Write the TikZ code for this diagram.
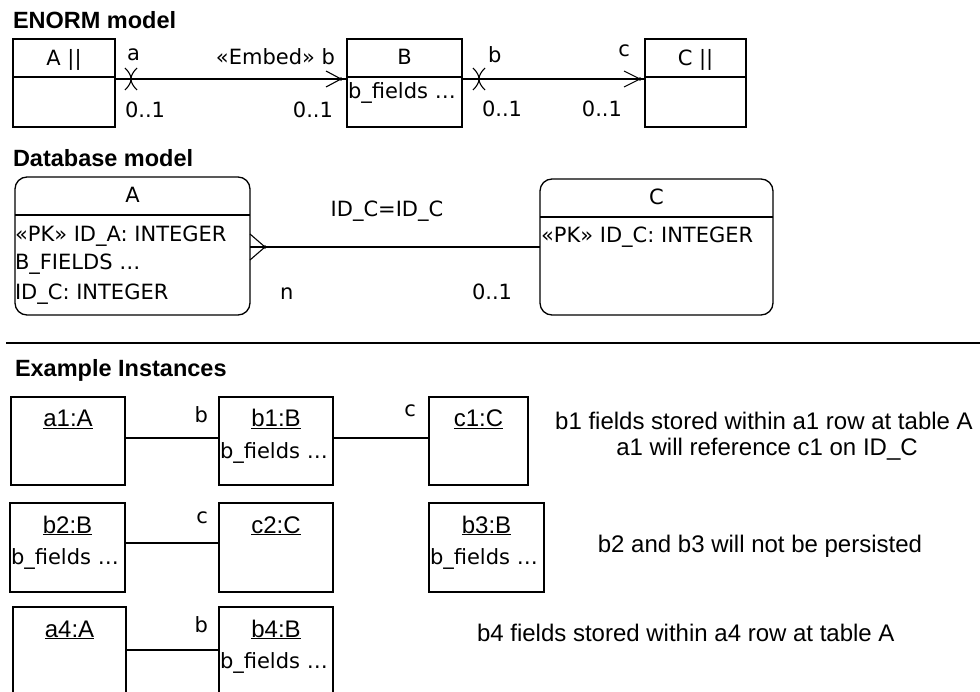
\documentclass[tikz,border=0pt]{standalone}
\usepackage{fontspec}
\setmainfont{Liberation Sans}
\newfontfamily\umlfont{DejaVu Sans}
\usetikzlibrary{calc}
\begin{document}
\begin{tikzpicture}[x=1pt,y=-1pt,
  every node/.style={inner sep=0pt, outer sep=0pt},
  box/.style={draw, line width=1.3pt, anchor=north west},
  tbl/.style={draw, line width=1.3pt, anchor=north west, rounded corners=12pt},
  ln/.style={line width=1.3pt},
  thinln/.style={line width=1.1pt},
  uml/.style={font=\umlfont\fontsize{21}{25}\selectfont},
  note/.style={font=\fontsize{24}{28}\selectfont},
  inst/.style={font=\fontsize{24}{28}\selectfont, anchor=base},
  ttl/.style={font=\bfseries\fontsize{23.5}{28}\selectfont, anchor=base west},
]
\useasboundingbox (0,0) rectangle (980,692);
\clip (0,0) rectangle (980,692);

% ---------------- ENORM model
\node[ttl] (t1) at (13,29) {ENORM model};
\node[box, minimum width=102pt, minimum height=88pt] (A) at (13,39) {};
\node[box, minimum width=115pt, minimum height=88pt] (B) at (347,39) {};
\node[box, minimum width=101pt, minimum height=88pt] (C) at (645,39) {};
\draw[ln] (A.west |- 0,77) -- (A.east |- 0,77);
\draw[ln] (B.west |- 0,77) -- (B.east |- 0,77);
\draw[ln] (C.west |- 0,77) -- (C.east |- 0,77);
\node[uml, anchor=base] (Ah) at (A.north |- 0,66) {A ||};
\node[uml, anchor=base] (Bh) at (B.north |- 0,65) {B};
\node[uml, anchor=base] (Ch) at (C.north |- 0,66) {C ||};
\node[uml, anchor=base west] (Bf) at (348,99) {b\_fields …};

\draw[thinln] (A.east |- 0,79) -- (B.west |- 0,79);
\draw[thinln] (B.east |- 0,79) -- (C.west |- 0,79);
% crossing marks
\draw[thinln] (125,68) .. controls (133,76) and (133,82) .. (125,90);
\draw[thinln] (137,68) .. controls (129,76) and (129,82) .. (137,90);
\draw[thinln] (473,68) .. controls (481,76) and (481,82) .. (473,90);
\draw[thinln] (485,68) .. controls (477,76) and (477,82) .. (485,90);
% open arrow ends with dot
\draw[thinln] (326,71) -- (341,79) -- (326,87);
\fill (341,79) circle (1.9);
\draw[thinln] (624,71) -- (640,79) -- (624,87);
\fill (640,79) circle (1.9);
% labels
\node[uml, anchor=base west] (la) at (127,61) {a};
\node[uml, anchor=base west] (l1) at (125,118) {0..1};
\node[uml, anchor=base east] (le) at (335,65) {«Embed» b};
\node[uml, anchor=base east] (l2) at (333,118) {0..1};
\node[uml, anchor=base west] (lb) at (488,63) {b};
\node[uml, anchor=base west] (l3) at (482,117) {0..1};
\node[uml, anchor=base east] (l4) at (622,117) {0..1};
\node[uml, anchor=base east] (lc) at (630,57) {c};

% ---------------- Database model
\node[ttl] (t2) at (13,167) {Database model};
\node[tbl, minimum width=235pt, minimum height=138pt] (TA) at (15,177) {};
\node[tbl, minimum width=233pt, minimum height=136pt] (TC) at (540,179) {};
\draw[ln] (TA.west |- 0,215) -- (TA.east |- 0,215);
\draw[ln] (TC.west |- 0,217) -- (TC.east |- 0,217);
\node[uml, anchor=base] (TAh) at (TA.north |- 0,203) {A};
\node[uml, anchor=base west] (TA1) at (15,242) {«PK» ID\_A: INTEGER};
\node[uml, anchor=base west] (TA2) at (15,270) {B\_FIELDS …};
\node[uml, anchor=base west] (TA3) at (15,300) {ID\_C: INTEGER};
\node[uml, anchor=base] (TCh) at (TC.north |- 0,205) {C};
\node[uml, anchor=base west] (TC1) at (541,243) {«PK» ID\_C: INTEGER};
\draw[thinln] (TA.east |- 0,247) -- (TC.west |- 0,247);
\draw[thinln] (250,234) -- (265,247) -- (250,260);
\fill (265,247) circle (1.9);
\node[uml, anchor=base] (rel) at (387,217) {ID\_C=ID\_C};
\node[uml, anchor=base west] (ln) at (280,300) {n};
\node[uml, anchor=base west] (l5) at (472,300) {0..1};

% separator
\draw[line width=1.5pt] (6,343) -- (980,343);

% ---------------- Example Instances
\node[ttl] (t3) at (15,377) {Example Instances};
% row 1
\node[box, minimum width=114pt, minimum height=88pt] (a1) at (11,397) {};
\node[box, minimum width=114pt, minimum height=88pt] (b1) at (219,397) {};
\node[box, minimum width=99pt, minimum height=88pt] (c1) at (429,397) {};
\node[inst] (a1h) at (a1.north |- 0,427) {\underline{a1:A}};
\node[inst] (b1h) at (b1.north |- 0,427) {\underline{b1:B}};
\node[inst] (c1h) at (c1.north |- 0,427) {\underline{c1:C}};
\node[uml, anchor=base west] (b1f) at (220,458) {b\_fields …};
\draw[thinln] (a1.east |- 0,438) -- (b1.west |- 0,438);
\draw[thinln] (b1.east |- 0,438) -- (c1.west |- 0,438);
\node[uml, anchor=base east] (r1b) at (208,422) {b};
\node[uml, anchor=base east] (r1c) at (416,417) {c};
% row 2
\node[box, minimum width=115pt, minimum height=89pt] (b2) at (10,503) {};
\node[box, minimum width=114pt, minimum height=89pt] (c2) at (219,503) {};
\node[box, minimum width=115pt, minimum height=89pt] (b3) at (429,503) {};
\node[inst] (b2h) at (b2.north |- 0,533) {\underline{b2:B}};
\node[inst] (c2h) at (c2.north |- 0,533) {\underline{c2:C}};
\node[inst] (b3h) at (b3.north |- 0,533) {\underline{b3:B}};
\node[uml, anchor=base west] (b2f) at (11,564) {b\_fields …};
\node[uml, anchor=base west] (b3f) at (430,564) {b\_fields …};
\draw[thinln] (b2.east |- 0,543) -- (c2.west |- 0,543);
\node[uml, anchor=base east] (r2c) at (208,523) {c};
% row 3
\node[box, minimum width=113pt, minimum height=95pt] (a4) at (13,607) {};
\node[box, minimum width=114pt, minimum height=95pt] (b4) at (219,607) {};
\node[inst] (a4h) at (a4.north |- 0,637) {\underline{a4:A}};
\node[inst] (b4h) at (b4.north |- 0,637) {\underline{b4:B}};
\node[uml, anchor=base west] (b4f) at (220,668) {b\_fields …};
\draw[thinln] (a4.east |- 0,650) -- (b4.west |- 0,650);
\node[uml, anchor=base east] (r3b) at (208,632) {b};

% notes
\node[note, anchor=base] (n1) at (764,430) {b1 fields stored within a1 row at table A};
\node[note, anchor=base] (n2) at (767,455) {a1 will reference c1 on ID\_C};
\node[note, anchor=base] (n3) at (760,552) {b2 and b3 will not be persisted};
\node[note, anchor=base west] (n4) at (477,641) {b4 fields stored within a4 row at table A};
\end{tikzpicture}
\end{document}
